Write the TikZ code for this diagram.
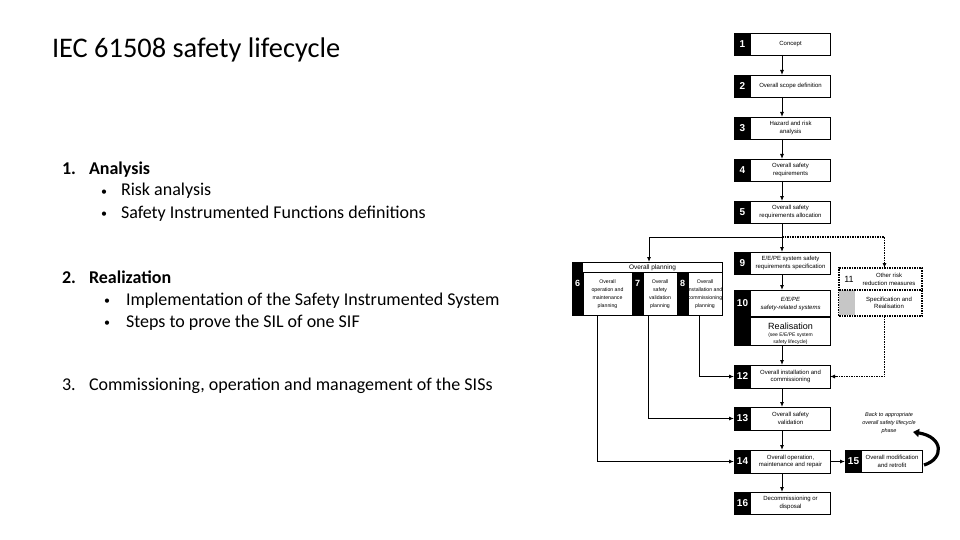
\documentclass[tikz,border=0pt]{standalone}
\usepackage{fontspec}
\setmainfont{Carlito}
\newfontfamily\arialf{Liberation Sans}
\usetikzlibrary{arrows.meta}
\begin{document}
\begin{tikzpicture}[x=1pt,y=-1pt,
  every node/.style={inner sep=0pt, outer sep=0pt},
  box/.style={draw, line width=0.9pt, minimum width=96, minimum height=22},
  numbox/.style={fill=black, text=white, font=\arialf\bfseries\fontsize{10}{10}\selectfont, minimum width=17, minimum height=22, anchor=west},
  blk/.style={fill=black, anchor=north west},
  txt/.style={font=\arialf\fontsize{6}{7.5}\selectfont, align=center},
  ptxt/.style={font=\arialf\fontsize{5.2}{8}\selectfont, align=center},
  pnum/.style={text=white, font=\arialf\bfseries\fontsize{9}{9}\selectfont},
  conn/.style={line width=0.9pt, -{Latex[length=5pt,width=4pt]}},
  dotconn/.style={line width=1.1pt, dash pattern=on 1.5pt off 1pt, -{Latex[length=5pt,width=4pt]}},
  dotline/.style={line width=1.1pt, dash pattern=on 1.5pt off 1pt},
  slide/.style={anchor=base west, font=\fontsize{18}{21}\selectfont},
  slideb/.style={slide, font=\bfseries\fontsize{18}{21}\selectfont},
  bul/.style={anchor=base west, font=\fontsize{12}{14}\selectfont}
]
\useasboundingbox (0,0) rectangle (960,540);
\fill[white] (0,0) rectangle (960,540);

% ---- left text ----
\node[anchor=base west, font=\fontsize{28.4}{34}\selectfont] (title) at (52,58) {IEC 61508 safety lifecycle};
\node[slideb] (n1) at (62,175) {1.};
\node[slideb] (h1) at (89,175) {Analysis};
\node[bul] (u11) at (101,195) {•};
\node[slide] (t11) at (121,196) {Risk analysis};
\node[bul] (u12) at (101,217) {•};
\node[slide] (t12) at (121,218) {Safety Instrumented Functions definitions};
\node[slideb] (n2) at (62,283) {2.};
\node[slideb] (h2) at (89,283) {Realization};
\node[bul] (u21) at (104,304) {•};
\node[slide] (t21) at (126,305) {Implementation of the Safety Instrumented System};
\node[bul] (u22) at (104,326) {•};
\node[slide] (t22) at (126,327) {Steps to prove the SIL of one SIF};
\node[slide] (n3) at (62,390) {3.};
\node[slide] (h3) at (89,390) {Commissioning, operation and management of the SISs};

% ---- main column ----
\node[box] (b1) at (782,44) {};
\node[numbox] (n1b) at (b1.west) {1};
\node[txt] (t1) at (790.5,44) {Concept};

\node[box] (b2) at (782,86) {};
\node[numbox] (n2b) at (b2.west) {2};
\node[txt] (t2) at (790.5,86) {Overall scope definition};

\node[box] (b3) at (782,128) {};
\node[numbox] (n3b) at (b3.west) {3};
\node[txt] (t3) at (790.5,128) {Hazard and risk\\analysis};

\node[box] (b4) at (782,170) {};
\node[numbox] (n4b) at (b4.west) {4};
\node[txt] (t4) at (790.5,170) {Overall safety\\requirements};

\node[box] (b5) at (782,212) {};
\node[numbox] (n5b) at (b5.west) {5};
\node[txt] (t5) at (790.5,212) {Overall safety\\requirements allocation};

\node[box] (b9) at (782,263) {};
\node[numbox] (n9b) at (b9.west) {9};
\node[txt] (t9) at (790.5,263) {E/E/PE system safety\\requirements specification};

\node[box, minimum height=55] (b10) at (782,317.5) {};
\node[numbox, minimum height=27, anchor=north west] (n10b) at (b10.north west) {10};
\node[blk, minimum width=17, minimum height=28] (n10c) at (n10b.south west) {};
\draw[line width=1.3pt] (n10b.south east) -- (b10.east |- n10b.south);
\node[txt, font=\arialf\itshape\fontsize{6}{8}\selectfont] (t10) at (790.5,304) {E/E/PE\\safety-related systems};
\node[txt, font=\arialf\fontsize{9}{9}\selectfont] (t10r) at (790.5,326) {Realisation};
\node[txt, font=\arialf\fontsize{5}{7}\selectfont] (t10s) at (790.5,338.5) {(see E/E/PE system\\safety lifecycle)};

\node[box, minimum height=23] (b12) at (782,376.5) {};
\node[numbox, minimum height=23] (n12b) at (b12.west) {12};
\node[txt] (t12) at (790.5,376.5) {Overall installation and\\commissioning};

\node[box, minimum height=23] (b13) at (782,418.5) {};
\node[numbox, minimum height=23] (n13b) at (b13.west) {13};
\node[txt] (t13) at (790.5,418.5) {Overall safety\\validation};

\node[box, minimum height=23] (b14) at (782,461.5) {};
\node[numbox, minimum height=23] (n14b) at (b14.west) {14};
\node[txt] (t14) at (790.5,461.5) {Overall operation,\\maintenance and repair};

\node[box] (b16) at (782,503) {};
\node[numbox] (n16b) at (b16.west) {16};
\node[txt] (t16) at (790.5,503) {Decommissioning or\\disposal};

\node[box, minimum width=77, minimum height=22] (b15) at (883.5,461.5) {};
\node[numbox] (n15b) at (b15.west) {15};
\node[txt] (t15) at (892,461.5) {Overall modification\\and retrofit};

% ---- box 11 ----
\node[dotline, draw, minimum width=83, minimum height=48] (b11) at (880.5,292) {};
\coordinate (d11) at (839,290);
\node[fill=gray!45, anchor=north west, minimum width=16, minimum height=25] (g11) at (d11) {};
\draw[dotline] (g11.north west) -- (b11.east |- g11.north);
\node[font=\arialf\fontsize{9}{9}\selectfont] (n11) at (849,279) {11};
\node[txt] (t11a) at (889,279.5) {Other risk\\reduction measures};
\node[txt] (t11b) at (889,303) {Specification and\\Realisation};

% ---- overall planning ----
\node[draw, line width=0.9pt, minimum width=150, minimum height=53, anchor=north west] (plan) at (572,262) {};
\node[blk, minimum width=11, minimum height=10] (hb) at (plan.north west) {};
\draw[line width=0.9pt] (hb.south west) -- (plan.east |- hb.south);
\node[txt, font=\arialf\fontsize{6.5}{7.5}\selectfont] (ht) at (652.5,267.5) {Overall planning};

\node[blk, minimum width=11, minimum height=43] (n6) at (572,272) {};
\node[draw, line width=0.9pt, minimum width=49, minimum height=43, anchor=north west] (p6) at (583,272) {};
\node[blk, minimum width=11, minimum height=43] (n7) at (632,272) {};
\node[draw, line width=0.9pt, minimum width=34, minimum height=43, anchor=north west] (p7) at (643,272) {};
\node[blk, minimum width=11, minimum height=43] (n8) at (677,272) {};
\node[draw, line width=0.9pt, minimum width=34, minimum height=43, anchor=north west] (p8) at (688,272) {};
\node[pnum] (l6) at (577.5,283) {6};
\node[pnum] (l7) at (637.5,283) {7};
\node[pnum] (l8) at (682.5,283) {8};
\node[ptxt] (tp6) at (607.5,294.5) {Overall\\operation and\\maintenance\\planning};
\node[ptxt] (tp7) at (660,294.5) {Overall\\safety\\validation\\planning};
\node[ptxt] (tp8) at (705,294.5) {Overall\\installation and\\commissioning\\planning};

% ---- connectors ----
\draw[conn] (b1.south) -- (b2.north);
\draw[conn] (b2.south) -- (b3.north);
\draw[conn] (b3.south) -- (b4.north);
\draw[conn] (b4.south) -- (b5.north);
\draw[conn] (b5.south) -- (b9.north);
\coordinate (split) at (782,237);
\draw[conn] (split) -| ([xshift=2pt]plan.north);
\draw[dotconn] (split) -| ([xshift=4pt]b11.north);
\draw[conn] (b9.south) -- (b10.north);
\draw[conn] (b10.south) -- (b12.north);
\draw[conn] (b12.south) -- (b13.north);
\draw[conn] (b13.south) -- (b14.north);
\draw[conn] (b14.south) -- (b16.north);
\draw[conn] (b14.east) -- (b15.west);
\draw[dotconn] ([xshift=4pt]b11.south) |- (b12.east);
\draw[conn] ([xshift=-6pt]p8.south) |- (b12.west);
\draw[conn] ([xshift=-11.5pt]p7.south) |- (b13.west);
\draw[conn] ([xshift=-10.5pt]p6.south) |- (b14.west);

% ---- back arrow ----
\node[font=\arialf\itshape\fontsize{5.5}{8}\selectfont, align=center] (back) at (889,423.5) {Back to appropriate\\overall safety lifecycle\\phase};
\coordinate (backstart) at (924,465);
\coordinate (backtip) at (913,432);
\draw[line width=3.2pt, -{Triangle[length=6pt,width=8pt]}] (backstart) .. controls (944,459) and (944,437) .. (backtip);
\end{tikzpicture}
\end{document}
